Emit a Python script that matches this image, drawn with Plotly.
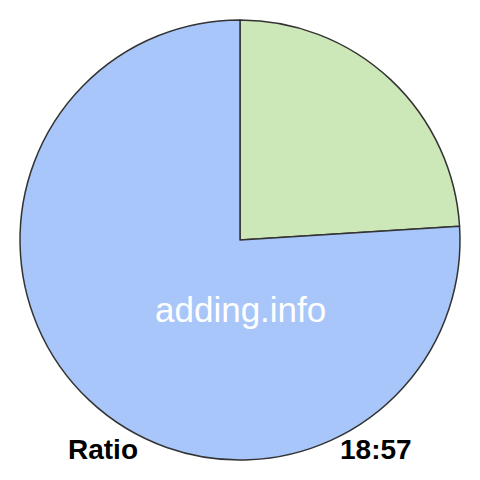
import plotly.graph_objects as go

labels = ["18", "57"]
values = [18, 57]
colors = ["#cde8b8", "#a8c6fa"]

# page body has an 8px margin, so the figure is 464 square and shifted
W = 464
off = 8


def px_x(x):
    return (x - off) / W


def px_y(y):
    return 1 - (y - off) / W


fig = go.Figure(go.Pie(
    labels=labels,
    values=values,
    sort=False,
    direction="clockwise",
    rotation=0,
    marker=dict(colors=colors, line=dict(color="#333333", width=1.5)),
    textinfo="none",
    hoverinfo="none",
    domain=dict(x=[px_x(20), px_x(460)], y=[px_y(460), px_y(20)]),
))

fig.add_annotation(x=px_x(240), y=px_y(309), xref="paper", yref="paper",
                   xanchor="center", yanchor="middle",
                   text="adding.info", showarrow=False,
                   font=dict(family="Liberation Sans, Arial", size=35, color="white"))
fig.add_annotation(x=px_x(103), y=px_y(449), xref="paper", yref="paper",
                   xanchor="center", yanchor="middle",
                   text="<b>Ratio</b>", showarrow=False,
                   font=dict(family="Liberation Sans, Arial", size=28, color="black"))
fig.add_annotation(x=px_x(376), y=px_y(449), xref="paper", yref="paper",
                   xanchor="center", yanchor="middle",
                   text="<b>18:57</b>", showarrow=False,
                   font=dict(family="Liberation Sans, Arial", size=28, color="black"))

fig.update_layout(
    width=W, height=W,
    margin=dict(l=0, r=0, t=0, b=0),
    showlegend=False,
    paper_bgcolor="white",
)

fig.write_html("out.html")
